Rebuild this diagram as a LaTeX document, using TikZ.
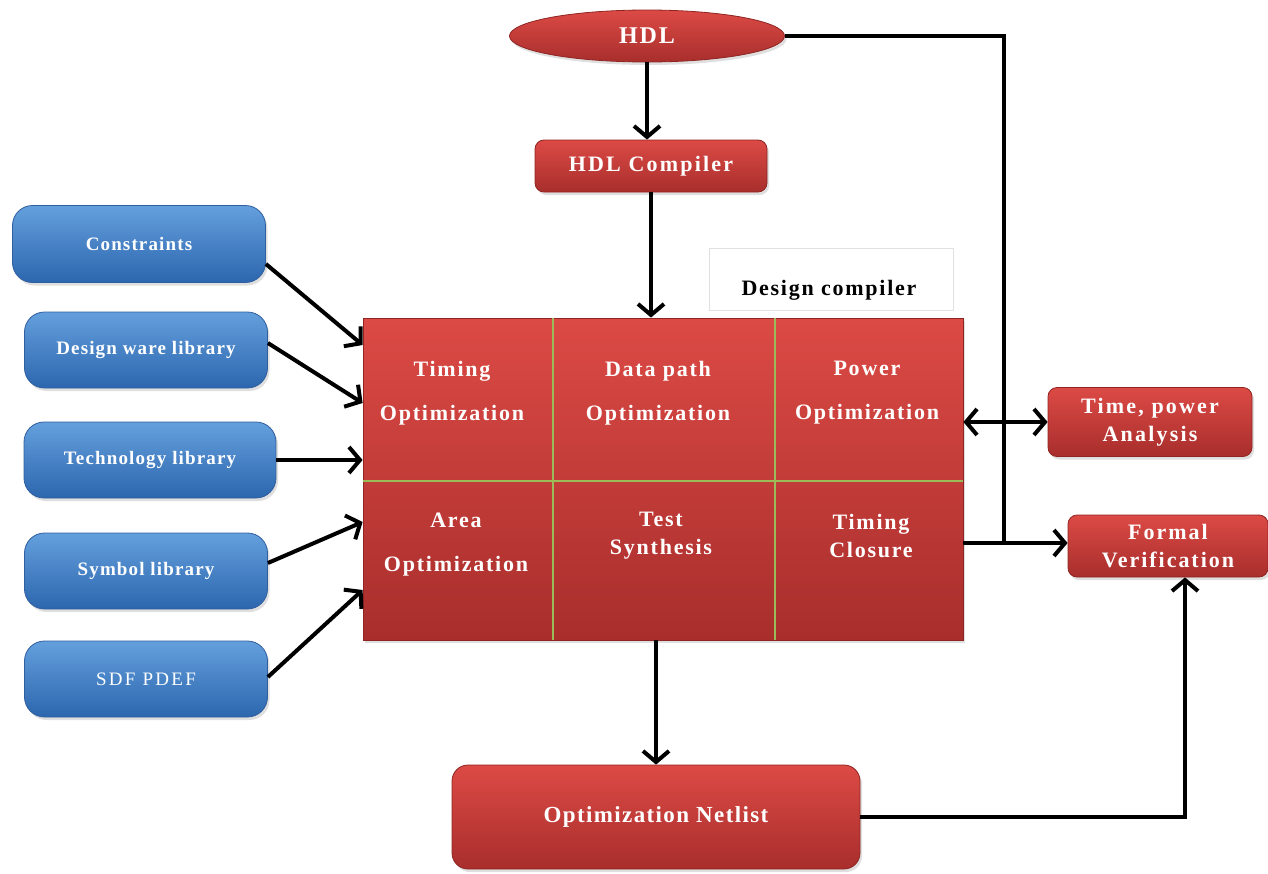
\documentclass[tikz,border=0pt]{standalone}
\usepackage{fontspec}
\setmainfont{Liberation Serif}
\usetikzlibrary{arrows.meta,calc,shadows,shapes.geometric}
\definecolor{redtop}{HTML}{DC4A45}
\definecolor{redbot}{HTML}{A82E2C}
\definecolor{redline}{HTML}{8E2523}
\definecolor{bluetop}{HTML}{649FDD}
\definecolor{bluebot}{HTML}{2C66AE}
\definecolor{blueline}{HTML}{2F5F9E}
\definecolor{gline}{HTML}{9BBB59}
\newcommand{\fsz}[1]{\fontsize{#1}{\the\numexpr #1*5/4\relax}\selectfont}
\tikzset{
  x=1pt, y=-1pt,
  redbox/.style={draw=redline, line width=0.8pt, rounded corners=9pt, top color=redtop, bottom color=redbot,
    text=white, align=center, inner sep=0pt, drop shadow={opacity=0.25, shadow xshift=2pt, shadow yshift=-3pt}},
  bluebox/.style={draw=blueline, line width=0.8pt, rounded corners=20pt, top color=bluetop, bottom color=bluebot,
    text=white, align=center, inner sep=0pt, minimum width=243pt, minimum height=76pt,
    font=\bfseries\fsz{19}\addfontfeature{LetterSpace=6},
    drop shadow={opacity=0.25, shadow xshift=2pt, shadow yshift=-3pt}},
  celltext/.style={text=white, align=center, font=\bfseries\fsz{22}\addfontfeature{LetterSpace=8}},
  arr/.style={line width=4pt, -{Straight Barb[length=11pt,width=26pt]}},
  dblarr/.style={line width=4pt, {Straight Barb[length=11pt,width=26pt]}-{Straight Barb[length=11pt,width=26pt]}},
  plain/.style={line width=4pt}
}
\begin{document}
\begin{tikzpicture}
\useasboundingbox (0,0) rectangle (1268,873);
% top
\node[redbox, ellipse, rounded corners=0pt, minimum width=275pt, minimum height=52pt,
      font=\bfseries\fsz{24}\addfontfeature{LetterSpace=8}] (hdl) at (647,36) {HDL};
\node[redbox, minimum width=232pt, minimum height=52pt, font=\bfseries\fsz{22}\addfontfeature{LetterSpace=10}]
      (comp) at (651,166) {HDL Compiler};
\node[draw=black!12, line width=0.8pt, minimum width=244pt, minimum height=62pt, inner sep=0pt] (dc) at (831,279) {};
\node[font=\bfseries\fsz{22}\addfontfeature{LetterSpace=8}] (dct) at (829,290) {Design compiler};
% grid
\node[draw=redline, line width=0.8pt, top color=redtop, bottom color=redbot, minimum width=600pt,
      minimum height=322pt, inner sep=0pt, drop shadow={opacity=0.25, shadow xshift=2pt, shadow yshift=-3pt}]
      (grid) at (663,479) {};
\draw[gline, line width=2.5pt] (553,318) -- (553,640) (775,318) -- (775,640) (363,481) -- (963,481);
\node[celltext] (c11) at (452,393) {Timing\\[16pt]Optimization};
\node[celltext] (c12) at (658,393) {Data path\\[16pt]Optimization};
\node[celltext] (c13) at (867,393) {Power\\[16pt]Optimization};
\node[celltext] (c21) at (456,545) {Area\\[16pt]Optimization};
\node[celltext] (c22) at (661,536) {Test\\Synthesis};
\node[celltext] (c23) at (871,536) {Timing\\Closure};
% left inputs
\node[bluebox, minimum width=253pt, minimum height=77pt] (con) at (139,244) {Constraints};
\node[bluebox] (dw) at (146,350) {Design ware library};
\node[bluebox, minimum width=252pt] (tech) at (150,460) {Technology library};
\node[bluebox] (sym) at (146,571) {Symbol library};
\node[bluebox, font=\fsz{19}\addfontfeature{LetterSpace=12}] (sdf) at (146,679) {SDF PDEF};
% right
\node[redbox, minimum width=204pt, minimum height=69pt, font=\bfseries\fsz{22}\addfontfeature{LetterSpace=10}]
      (tpa) at (1150,422) {Time, power\\Analysis};
\node[redbox, minimum width=200pt, minimum height=62pt, font=\bfseries\fsz{22}\addfontfeature{LetterSpace=9}]
      (fv) at (1168,546) {Formal\\Verification};
% bottom
\node[redbox, rounded corners=16pt, minimum width=408pt, minimum height=104pt, font=\bfseries\fsz{23}\addfontfeature{LetterSpace=6}]
      (net) at (656,817) {Optimization Netlist};
% connectors
\draw[arr] (hdl.south) -- (hdl.south |- comp.north);
\draw[arr] (comp.south) -- (grid.north -| comp.south);
\draw[arr] ($(con.east)+(0,20)$) -- (grid.west |- 0,345);
\draw[arr] ($(dw.east)+(0,-7)$) -- (grid.west |- 0,403);
\draw[arr] (tech.east) -- (grid.west |- 0,460);
\draw[arr] ($(sym.east)+(0,-8)$) -- (grid.west |- 0,522);
\draw[arr] ($(sdf.east)+(0,-2)$) -- (grid.west |- 0,590);
\draw[dblarr] (grid.east |- tpa.west) -- (tpa.west);
\coordinate (j) at (1004,543);
\draw[plain] (hdl.east) -| (j);
\draw[arr] (grid.east |- j) -- (fv.west |- j);
\draw[arr] (grid.south -| net.north) -- (net.north);
\draw[arr] (net.east) -| ([xshift=17pt]fv.south);
\end{tikzpicture}
\end{document}
